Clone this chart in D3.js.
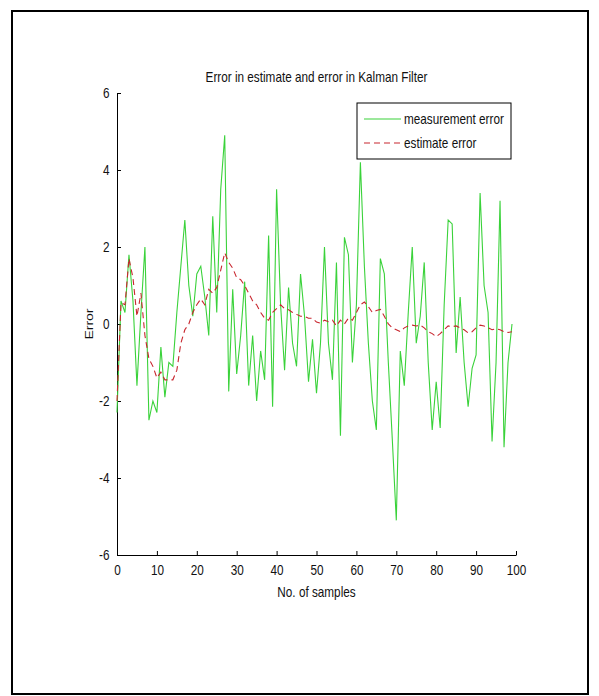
<!DOCTYPE html>
<html>
<head>
<meta charset="utf-8">
<script src="https://cdn.jsdelivr.net/npm/d3@7"></script>
<style>
body { margin: 0; background: #fff; }
text { font-family: "Liberation Sans", Arial, sans-serif; fill: #111; }
</style>
</head>
<body>
<svg id="chart" width="599" height="696"></svg>
<script>
// values, sample 0..99
var measurement_error = [
  -2.3, 0.6, 0.3, 1.8, 0.6, -1.6, 0.3, 2.0, -2.5, -2.0,
  -2.3, -0.6, -1.9, -1.0, -1.1, 0.3, 1.5, 2.7, 1.0, 0.2,
  1.3, 1.5, 0.7, -0.3, 2.8, 0.3, 3.5, 4.9, -1.75, 0.9,
  -1.3, -0.3, 1.1, -1.6, -0.3, -2.0, -0.7, -1.45, 2.3, -2.15,
  3.5, 0.5, -1.2, 0.95, -0.5, -1.1, 1.3, 0.2, -1.5, -0.4,
  -1.8, -0.5, 2.0, -0.5, -1.45, 1.6, -2.9, 2.25, 1.8, -1.0,
  0.5, 4.2, 1.5, -0.5, -2.0, -2.75, 1.7, 1.3, -1.0, -3.0,
  -5.1, -0.7, -1.6, 0.3, 2.0, -0.5, 0.2, 1.6, -1.0, -2.75,
  -1.5, -2.7, 0.5, 2.7, 2.6, -0.75, 0.7, -1.0, -2.15, -1.15,
  -0.8, 3.4, 1.0, 0.3, -3.05, -1.0, 3.2, -3.2, -1.0, 0.0
]
var estimate_error = [
  -2.0, 0.55, 0.5, 1.7, 1.2, 0.2, 0.8, -0.3, -0.9, -1.1,
  -1.4, -1.25, -1.45, -1.45, -1.45, -1.2, -0.5, -0.15, 0.0, 0.3,
  0.5, 0.65, 0.5, 0.9, 0.8, 0.95, 1.4, 1.85, 1.6, 1.45,
  1.2, 1.15, 1.0, 0.8, 0.6, 0.5, 0.3, 0.15, 0.1, 0.3,
  0.4, 0.5, 0.4, 0.37, 0.3, 0.25, 0.2, 0.2, 0.15, 0.15,
  0.05, 0.02, 0.1, 0.06, 0.1, -0.05, 0.1, 0.0, 0.15, 0.1,
  0.3, 0.5, 0.57, 0.45, 0.3, 0.35, 0.38, 0.2, 0.0, -0.1,
  -0.15, -0.2, -0.1, -0.05, -0.03, -0.05, -0.03, -0.1, -0.2, -0.25,
  -0.33, -0.25, -0.15, -0.05, -0.07, -0.05, -0.1, -0.15, -0.23, -0.2,
  -0.1, -0.03, -0.05, -0.1, -0.15, -0.12, -0.15, -0.2, -0.22, -0.2
]
var x_ticks = [0, 10, 20, 30, 40, 50, 60, 70, 80, 90, 100]
var y_ticks = [-6, -4, -2, 0, 2, 4, 6]
var legend_labels = ["measurement error", "estimate error"]

var svg = d3.select("#chart")
var squeeze = 0.84   // matlab's font is narrow, squash text sideways

// outer frame
svg.append("rect")
  .attr("x", 12).attr("y", 11)
  .attr("width", 576).attr("height", 683)
  .attr("fill", "none")
  .attr("stroke", "#000")
  .attr("stroke-width", 2)

var plotLeft = 117, plotTop = 93, w = 399, h = 462

var x = d3.scaleLinear().domain([0, 100]).range([0, w])
var y = d3.scaleLinear().domain([-6, 6]).range([h, 0])

var plot = svg.append("g")
  .attr("transform", "translate(" + plotLeft + "," + plotTop + ")")

// axes, ticks pointing inward like matlab, plain hyphen for minus
plot.append("g")
  .attr("transform", "translate(0," + h + ")")
  .call(d3.axisBottom(x).tickValues(x_ticks).tickFormat(d => String(d))
    .tickSizeInner(-4).tickSizeOuter(0).tickPadding(10))
plot.append("g")
  .call(d3.axisLeft(y).tickValues(y_ticks).tickFormat(d => String(d))
    .tickSizeInner(-4).tickSizeOuter(0).tickPadding(9))

plot.selectAll(".domain").attr("stroke", "#000")
plot.selectAll(".tick line").attr("stroke", "#000")
plot.selectAll(".tick text")
  .style("font-size", "14px")
  .attr("fill", "#111")
  .attr("transform", "scale(" + squeeze + ",1)")

var line = d3.line()
  .x((d, i) => x(i))
  .y(d => y(d))

plot.append("path")
  .datum(measurement_error)
  .attr("d", line)
  .attr("fill", "none")
  .attr("stroke", "#3ad23a")
  .attr("stroke-width", 1.1)

plot.append("path")
  .datum(estimate_error)
  .attr("d", line)
  .attr("fill", "none")
  .attr("stroke", "#c8262e")
  .attr("stroke-width", 1.1)
  .attr("stroke-dasharray", "6,4")

function label(tx, ty, rot, size, str) {
  svg.append("g")
    .attr("transform", "translate(" + tx + "," + ty + ") rotate(" + rot + ")")
    .append("text")
    .attr("transform", rot ? "scale(1," + squeeze + ")" : "scale(" + squeeze + ",1)")
    .attr("text-anchor", "middle")
    .style("font-size", size + "px")
    .text(str)
}

// titles
label(plotLeft + w / 2, 82, 0, 14, "Error in estimate and error in Kalman Filter")
label(plotLeft + w / 2, 597, 0, 14, "No. of samples")
label(93, plotTop + h / 2, -90, 14, "Error")

// legend
var legend = svg.append("g").attr("transform", "translate(357,103)")
legend.append("rect")
  .attr("width", 154).attr("height", 56)
  .attr("fill", "#fff")
  .attr("stroke", "#000")
  .attr("stroke-width", 1)

var legendColors = ["#3ad23a", "#c8262e"]
var legendDash = [null, "6,4"]
legend_labels.forEach(function(lab, i) {
  var ly = 16 + i * 24
  legend.append("line")
    .attr("x1", 7).attr("x2", 44)
    .attr("y1", ly).attr("y2", ly)
    .attr("stroke", legendColors[i])
    .attr("stroke-width", 1.1)
    .attr("stroke-dasharray", legendDash[i])
  legend.append("g")
    .attr("transform", "translate(47," + (ly + 5) + ")")
    .append("text")
    .attr("transform", "scale(" + squeeze + ",1)")
    .style("font-size", "14px")
    .text(lab)
})
</script>
</body>
</html>
